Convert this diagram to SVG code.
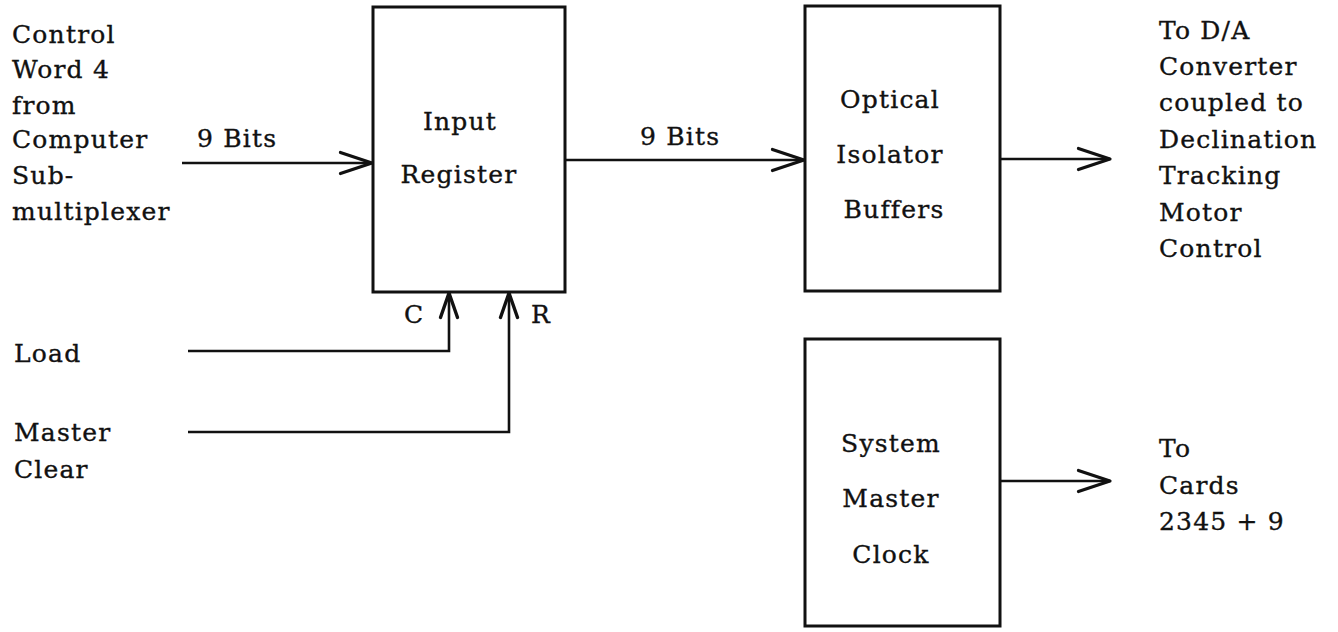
<svg xmlns="http://www.w3.org/2000/svg" width="1338" height="632" viewBox="0 0 1338 632">
  <defs>
    <style>
      .box { fill: none; stroke: #111; stroke-width: 3; }
      .wire { fill: none; stroke: #111; stroke-width: 2.6; }
      .lbl { font-family: "DejaVu Serif", "Liberation Serif", serif; font-size: 25px; letter-spacing: 1.2px; fill: #111; stroke: #111; stroke-width: 0.35; }
      .mid { text-anchor: middle; }
    </style>
    <marker id="headH" markerUnits="userSpaceOnUse" markerWidth="40" markerHeight="30" viewBox="-34 -14 38 28" refX="0" refY="0" orient="auto">
      <path d="M-30,-10 L0,0 L-30,10" fill="none" stroke="#111" stroke-width="3" stroke-linejoin="round" stroke-linecap="round"/>
    </marker>
    <marker id="headV" markerUnits="userSpaceOnUse" markerWidth="34" markerHeight="26" viewBox="-28 -12 32 24" refX="0" refY="0" orient="auto">
      <path d="M-23,-8 L0,0 L-23,8" fill="none" stroke="#111" stroke-width="3.2" stroke-linejoin="round" stroke-linecap="round"/>
    </marker>
  </defs>
  <rect width="1338" height="632" fill="#fff"/>

  <!-- source labels -->
  <g id="source-word4" class="lbl">
    <text x="12" y="43">Control</text>
    <text x="12" y="78">Word 4</text>
    <text x="12" y="114">from</text>
    <text x="12" y="148">Computer</text>
    <text x="12" y="184">Sub-</text>
    <text x="12" y="220">multiplexer</text>
  </g>
  <g id="source-load" class="lbl">
    <text x="14" y="362">Load</text>
  </g>
  <g id="source-clear" class="lbl">
    <text x="14" y="441">Master</text>
    <text x="14" y="478">Clear</text>
  </g>

  <!-- blocks -->
  <g id="input-register">
    <rect class="box" x="373" y="7" width="192" height="285"/>
    <text class="lbl mid" x="460" y="130">Input</text>
    <text class="lbl mid" x="459" y="183">Register</text>
  </g>
  <g id="optical-isolator">
    <rect class="box" x="805" y="6" width="195" height="285"/>
    <text class="lbl mid" x="890" y="108">Optical</text>
    <text class="lbl mid" x="890" y="163">Isolator</text>
    <text class="lbl mid" x="894" y="218">Buffers</text>
  </g>
  <g id="master-clock">
    <rect class="box" x="805" y="339" width="195" height="287"/>
    <text class="lbl mid" x="891" y="452">System</text>
    <text class="lbl mid" x="891" y="507">Master</text>
    <text class="lbl mid" x="891" y="563">Clock</text>
  </g>

  <!-- destination labels -->
  <g id="dest-da" class="lbl">
    <text x="1159" y="39">To D/A</text>
    <text x="1159" y="75">Converter</text>
    <text x="1159" y="111">coupled to</text>
    <text x="1159" y="148">Declination</text>
    <text x="1159" y="184">Tracking</text>
    <text x="1159" y="221">Motor</text>
    <text x="1159" y="257">Control</text>
  </g>
  <g id="dest-cards" class="lbl">
    <text x="1159" y="457">To</text>
    <text x="1159" y="494">Cards</text>
    <text x="1159" y="530">2345 + 9</text>
  </g>

  <!-- connectors -->
  <g id="connectors">
    <line class="wire" x1="182" y1="163" x2="372" y2="163" marker-end="url(#headH)"/>
    <text class="lbl" x="197" y="147">9 Bits</text>
    <line class="wire" x1="565" y1="160" x2="804" y2="160" marker-end="url(#headH)"/>
    <text class="lbl" x="640" y="145">9 Bits</text>
    <line class="wire" x1="1000" y1="159" x2="1110" y2="159" marker-end="url(#headH)"/>
    <line class="wire" x1="1000" y1="481" x2="1110" y2="481" marker-end="url(#headH)"/>
    <polyline class="wire" points="188,351 449,351 449,293" marker-end="url(#headV)"/>
    <text class="lbl" x="404" y="323">C</text>
    <polyline class="wire" points="188,432 509,432 509,293" marker-end="url(#headV)"/>
    <text class="lbl" x="531" y="323">R</text>
  </g>
</svg>
